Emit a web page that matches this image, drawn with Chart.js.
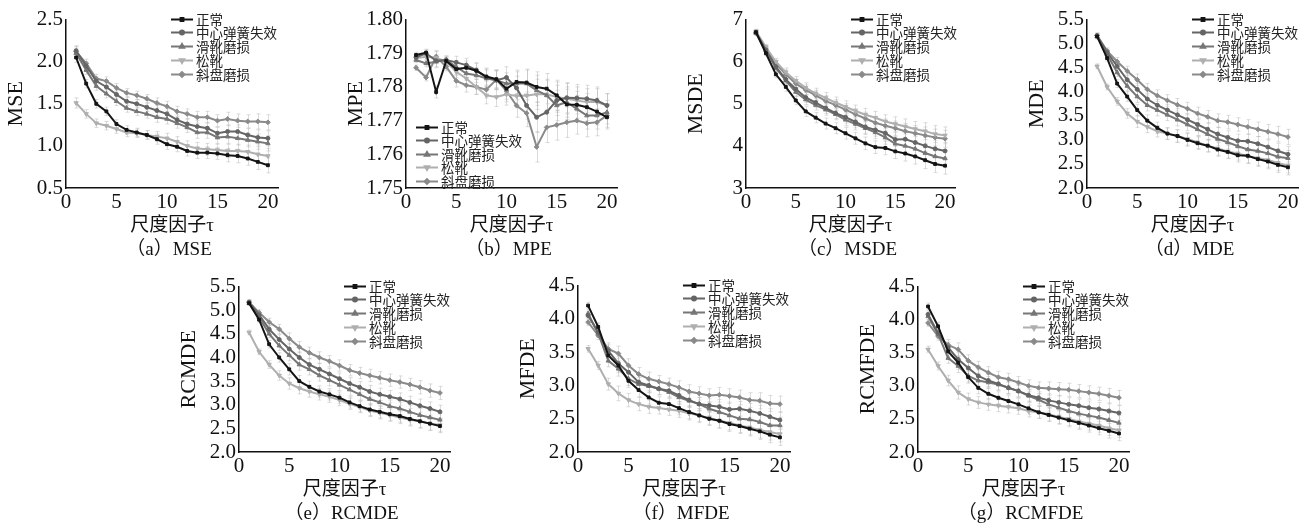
<!DOCTYPE html>
<html><head><meta charset="utf-8">
<script src="https://cdn.jsdelivr.net/npm/chart.js@4"></script>
<style>
body{margin:0;background:#fff;width:1312px;height:528px;position:relative;overflow:hidden}
.c{position:absolute}
.cap{position:absolute;font:19px 'Liberation Serif','Noto Sans CJK SC',serif;color:#111;white-space:nowrap;transform:translate(-50%,-50%)}
</style></head><body>
<script>
// ---------- data ----------
const tau = [1,2,3,4,5,6,7,8,9,10,11,12,13,14,15,16,17,18,19,20];
const seriesNames = ['正常','中心弹簧失效','滑靴磨损','松靴','斜盘磨损'];
const xTicks = [0,5,10,15,20];

// (a) MSE
const mseTicks = [0.5,1.0,1.5,2.0,2.5];
const mseNormal = [2.05,1.74,1.50,1.41,1.26,1.19,1.16,1.13,1.08,1.02,0.99,0.94,0.92,0.92,0.91,0.89,0.88,0.85,0.81,0.77];
const mseSpring = [2.13,1.95,1.77,1.70,1.61,1.53,1.50,1.46,1.42,1.38,1.31,1.26,1.23,1.21,1.15,1.17,1.17,1.13,1.10,1.09];
const mseSlipper = [2.10,1.90,1.71,1.62,1.53,1.45,1.41,1.38,1.34,1.32,1.27,1.22,1.16,1.16,1.10,1.11,1.09,1.07,1.05,1.03];
const mseLoose = [1.51,1.38,1.27,1.24,1.20,1.16,1.15,1.13,1.11,1.09,1.05,1.00,0.97,0.96,0.95,0.94,0.94,0.93,0.90,0.88];
const mseSwash = [2.12,1.98,1.80,1.77,1.69,1.63,1.60,1.56,1.51,1.47,1.41,1.38,1.34,1.34,1.30,1.32,1.30,1.29,1.29,1.28];
const mseErr = [0.06,0.05,0.05,0.05,0.05,0.05,0.05,0.05,0.06,0.06,0.06,0.06,0.07,0.07,0.07,0.08,0.08,0.08,0.09,0.09];

// (b) MPE
const mpeTicks = [1.75,1.76,1.77,1.78,1.79,1.80];
const mpeNormal = [1.7895,1.7902,1.7785,1.7877,1.7853,1.7857,1.7848,1.7831,1.7823,1.7795,1.7815,1.7813,1.7800,1.7795,1.7775,1.7748,1.7747,1.7740,1.7727,1.7710];
const mpeSpring = [1.7888,1.7900,1.7878,1.7880,1.7873,1.7865,1.7850,1.7828,1.7820,1.7828,1.7797,1.7745,1.7710,1.7725,1.7760,1.7768,1.7767,1.7765,1.7760,1.7745];
const mpeSlipper = [1.7880,1.7870,1.7875,1.7880,1.7860,1.7840,1.7835,1.7825,1.7820,1.7810,1.7810,1.7810,1.7790,1.7775,1.7745,1.7755,1.7735,1.7715,1.7715,1.7725];
const mpeLoose = [1.7885,1.7890,1.7887,1.7875,1.7845,1.7825,1.7800,1.7775,1.7770,1.7778,1.7773,1.7775,1.7778,1.7778,1.7770,1.7765,1.7760,1.7755,1.7755,1.7745];
const mpeSwash = [1.7857,1.7828,1.7890,1.7860,1.7818,1.7805,1.7800,1.7792,1.7822,1.7788,1.7745,1.7722,1.7622,1.7680,1.7687,1.7695,1.7700,1.7692,1.7695,1.7715];
const mpeErr = [0.0008,0.0010,0.0018,0.0012,0.0018,0.0020,0.0022,0.0025,0.0028,0.0032,0.0035,0.0040,0.0045,0.0045,0.0045,0.0045,0.0040,0.0040,0.0040,0.0035];

// (c) MSDE
const msdeTicks = [3,4,5,6,7];
const msdeNormal = [6.70,6.20,5.70,5.40,5.08,4.82,4.67,4.53,4.42,4.30,4.18,4.06,3.97,3.95,3.87,3.82,3.75,3.66,3.57,3.53];
const msdeSpring = [6.70,6.28,5.88,5.58,5.35,5.15,5.03,4.90,4.78,4.68,4.57,4.45,4.38,4.30,4.15,4.16,4.08,4.00,3.93,3.88];
const msdeSlipper = [6.68,6.27,5.85,5.55,5.28,5.10,4.97,4.86,4.75,4.62,4.52,4.42,4.32,4.20,4.05,4.00,3.93,3.83,3.75,3.70];
const msdeLoose = [6.72,6.35,6.00,5.75,5.55,5.38,5.25,5.14,5.03,4.93,4.83,4.74,4.67,4.58,4.52,4.46,4.40,4.35,4.28,4.25];
const msdeSwash = [6.68,6.30,5.95,5.70,5.48,5.33,5.20,5.07,4.97,4.86,4.75,4.65,4.55,4.48,4.42,4.35,4.30,4.25,4.20,4.17];
const msdeErr = [0.05,0.06,0.08,0.10,0.10,0.12,0.12,0.13,0.13,0.14,0.14,0.15,0.15,0.16,0.17,0.18,0.18,0.20,0.20,0.20];

// (d) MDE
const mdeTicks = [2.0,2.5,3.0,3.5,4.0,4.5,5.0,5.5];
const mdeNormal = [5.15,4.70,4.17,3.90,3.62,3.40,3.25,3.13,3.08,3.00,2.93,2.88,2.80,2.75,2.68,2.67,2.60,2.55,2.48,2.43];
const mdeSpring = [5.17,4.82,4.53,4.25,4.05,3.85,3.72,3.62,3.52,3.42,3.32,3.22,3.12,3.05,2.98,2.97,2.92,2.85,2.77,2.70];
const mdeSlipper = [5.15,4.78,4.40,4.12,3.90,3.72,3.62,3.52,3.42,3.32,3.22,3.12,3.02,2.95,2.87,2.80,2.77,2.72,2.65,2.62];
const mdeLoose = [4.53,4.10,3.80,3.55,3.38,3.27,3.18,3.13,3.08,3.02,2.95,2.88,2.82,2.76,2.72,2.66,2.62,2.58,2.52,2.47];
const mdeSwash = [5.17,4.85,4.63,4.43,4.25,4.05,3.92,3.82,3.73,3.65,3.55,3.48,3.40,3.37,3.32,3.27,3.22,3.17,3.12,3.06];
const mdeErr = [0.05,0.06,0.08,0.10,0.12,0.12,0.12,0.12,0.13,0.13,0.13,0.13,0.14,0.14,0.14,0.15,0.15,0.15,0.16,0.16];

// (e) RCMDE
const rcmdeTicks = [2.0,2.5,3.0,3.5,4.0,4.5,5.0,5.5];
const rcmdeNormal = [5.15,4.80,4.28,4.00,3.75,3.50,3.38,3.28,3.22,3.15,3.05,2.97,2.90,2.85,2.80,2.76,2.70,2.65,2.60,2.55];
const rcmdeSpring = [5.17,4.90,4.60,4.38,4.18,4.00,3.85,3.75,3.65,3.55,3.45,3.37,3.28,3.22,3.17,3.12,3.05,2.98,2.92,2.85];
const rcmdeSlipper = [5.15,4.85,4.50,4.25,4.05,3.85,3.75,3.62,3.52,3.42,3.32,3.22,3.12,3.05,2.97,2.92,2.85,2.78,2.73,2.68];
const rcmdeLoose = [4.53,4.12,3.85,3.62,3.45,3.35,3.28,3.22,3.17,3.10,3.02,2.95,2.88,2.83,2.78,2.73,2.68,2.65,2.60,2.57];
const rcmdeSwash = [5.17,4.95,4.75,4.60,4.40,4.22,4.10,4.00,3.92,3.83,3.73,3.67,3.62,3.57,3.52,3.48,3.43,3.37,3.30,3.25];
const rcmdeErr = [0.05,0.06,0.08,0.10,0.12,0.12,0.12,0.12,0.12,0.12,0.12,0.12,0.13,0.13,0.13,0.13,0.13,0.14,0.14,0.14];

// (f) MFDE
const mfdeTicks = [2.0,2.5,3.0,3.5,4.0,4.5];
const mfdeNormal = [4.20,3.88,3.45,3.30,3.07,2.93,2.82,2.74,2.72,2.66,2.60,2.55,2.50,2.47,2.42,2.39,2.35,2.31,2.26,2.22];
const mfdeSpring = [4.05,3.80,3.52,3.33,3.20,3.05,3.00,2.95,2.92,2.85,2.78,2.72,2.70,2.68,2.64,2.65,2.62,2.58,2.53,2.48];
const mfdeSlipper = [4.08,3.78,3.37,3.25,3.10,3.02,2.99,2.95,2.90,2.82,2.77,2.72,2.65,2.60,2.55,2.50,2.49,2.45,2.40,2.40];
const mfdeLoose = [3.55,3.30,3.02,2.88,2.78,2.72,2.68,2.66,2.64,2.62,2.58,2.55,2.51,2.47,2.44,2.40,2.37,2.33,2.30,2.27];
const mfdeSwash = [3.95,3.75,3.55,3.48,3.30,3.17,3.10,3.06,3.02,2.97,2.91,2.88,2.85,2.86,2.84,2.82,2.78,2.77,2.73,2.72];
const mfdeErr = [0.05,0.06,0.09,0.11,0.10,0.10,0.10,0.09,0.09,0.10,0.10,0.10,0.10,0.11,0.11,0.11,0.11,0.12,0.12,0.12];

// (g) RCMFDE
const rcmfdeTicks = [2.0,2.5,3.0,3.5,4.0,4.5];
const rcmfdeNormal = [4.20,3.90,3.52,3.35,3.13,2.97,2.88,2.82,2.77,2.72,2.66,2.60,2.56,2.52,2.48,2.44,2.40,2.36,2.32,2.28];
const rcmfdeSpring = [4.08,3.80,3.58,3.40,3.27,3.15,3.08,3.03,2.97,2.92,2.86,2.82,2.78,2.75,2.72,2.70,2.67,2.65,2.62,2.59];
const rcmfdeSlipper = [4.05,3.78,3.42,3.30,3.15,3.08,3.05,3.02,2.97,2.92,2.85,2.79,2.72,2.67,2.62,2.58,2.55,2.52,2.48,2.44];
const rcmfdeLoose = [3.55,3.30,3.08,2.90,2.80,2.75,2.72,2.70,2.68,2.66,2.62,2.60,2.57,2.53,2.50,2.46,2.43,2.40,2.36,2.33];
const rcmfdeSwash = [3.95,3.75,3.62,3.55,3.38,3.28,3.20,3.13,3.10,3.05,3.00,2.97,2.96,2.95,2.94,2.92,2.90,2.88,2.85,2.82];
const rcmfdeErr = [0.05,0.06,0.08,0.10,0.09,0.09,0.09,0.09,0.09,0.09,0.09,0.09,0.10,0.10,0.10,0.10,0.10,0.10,0.11,0.11];

// ---------- styles ----------
const seriesStyle = [
  {color:'#141414', style:'rect', rot:0, r:2.0},
  {color:'#656565', style:'circle', rot:0, r:2.0},
  {color:'#767676', style:'triangle', rot:0, r:2.5},
  {color:'#afafaf', style:'triangle', rot:180, r:2.5},
  {color:'#8a8a8a', style:'rectRot', rot:0, r:2.4}
];

const panels = [
  {ax:66,  top:16,  bot:188, end:278,  ticks:mseTicks,   dec:1, title:'MSE',    cap:'（a）MSE',    data:[mseNormal,mseSpring,mseSlipper,mseLoose,mseSwash], err:mseErr, leg:'tr'},
  {ax:406, top:16,  bot:188, end:617,  ticks:mpeTicks,   dec:2, title:'MPE',    cap:'（b）MPE',    data:[mpeNormal,mpeSpring,mpeSlipper,mpeLoose,mpeSwash], err:mpeErr, leg:'bl'},
  {ax:746, top:16,  bot:188, end:955,  ticks:msdeTicks,  dec:0, title:'MSDE',   cap:'（c）MSDE',   data:[msdeNormal,msdeSpring,msdeSlipper,msdeLoose,msdeSwash], err:msdeErr, leg:'tr'},
  {ax:1087,top:16,  bot:188, end:1298, ticks:mdeTicks,   dec:1, title:'MDE',    cap:'（d）MDE',    data:[mdeNormal,mdeSpring,mdeSlipper,mdeLoose,mdeSwash], err:mdeErr, leg:'tr'},
  {ax:239, top:283, bot:452, end:450,  ticks:rcmdeTicks, dec:1, title:'RCMDE',  cap:'（e）RCMDE',  data:[rcmdeNormal,rcmdeSpring,rcmdeSlipper,rcmdeLoose,rcmdeSwash], err:rcmdeErr, leg:'tr'},
  {ax:578, top:282, bot:452, end:790,  ticks:mfdeTicks,  dec:1, title:'MFDE',   cap:'（f）MFDE',   data:[mfdeNormal,mfdeSpring,mfdeSlipper,mfdeLoose,mfdeSwash], err:mfdeErr, leg:'tr'},
  {ax:918, top:283, bot:452, end:1129, ticks:rcmfdeTicks,dec:1, title:'RCMFDE', cap:'（g）RCMFDE', data:[rcmfdeNormal,rcmfdeSpring,rcmfdeSlipper,rcmfdeLoose,rcmfdeSwash], err:rcmfdeErr, leg:'tr'}
];

// ---------- plugins ----------
const errorBars = {
  id:'errorBars',
  beforeDatasetsDraw(chart, args, opts){
    if(!opts || !opts.err) return;
    const {ctx} = chart; const xs = chart.scales.x, ys = chart.scales.y;
    ctx.save();
    ctx.strokeStyle = 'rgba(185,185,185,0.5)'; ctx.lineWidth = 1;
    chart.data.datasets.forEach(ds=>{
      ds.data.forEach((pt,j)=>{
        const e = opts.err[j];
        const x = Math.round(xs.getPixelForValue(pt.x))+0.5;
        const y1 = ys.getPixelForValue(pt.y+e), y2 = ys.getPixelForValue(pt.y-e);
        ctx.beginPath();
        ctx.moveTo(x,y1); ctx.lineTo(x,y2);
        ctx.moveTo(x-2,y1); ctx.lineTo(x+2,y1);
        ctx.moveTo(x-2,y2); ctx.lineTo(x+2,y2);
        ctx.stroke();
      });
    });
    ctx.restore();
  }
};
const panelLegend = {
  id:'panelLegend',
  afterDatasetsDraw(chart, args, opts){
    if(!opts || opts.dx === undefined) return;
    const {ctx, chartArea} = chart;
    const x0 = chartArea.left + opts.dx, y0 = chartArea.top + opts.dy;
    ctx.save();
    chart.data.datasets.forEach((ds,i)=>{
      const y = Math.round(y0 + i*opts.gap) + 0.5;
      ctx.strokeStyle = ds.borderColor; ctx.fillStyle = ds.backgroundColor; ctx.lineWidth = ds.borderWidth;
      ctx.beginPath(); ctx.moveTo(x0,y); ctx.lineTo(x0+22,y); ctx.stroke();
      Chart.helpers.drawPoint(ctx, {pointStyle:ds.pointStyle, rotation:ds.pointRotation||0, radius:ds.pointRadius, borderWidth:1}, x0+11, y);
      ctx.fillStyle = '#222';
      ctx.font = "13.5px 'Noto Sans CJK SC'";
      ctx.textBaseline = 'middle'; ctx.textAlign = 'left';
      ctx.fillText(ds.label, x0+25, y);
    });
    ctx.restore();
  }
};
Chart.register(errorBars, panelLegend);

// ---------- build ----------
const PT = 12, PR = 14, XH = 52, YW = 66;
panels.forEach(p=>{
  const left = p.ax - YW, top = p.top - PT;
  const w = p.end + PR - left, h = p.bot + XH - top;
  const cv = document.createElement('canvas');
  cv.className = 'c'; cv.width = w; cv.height = h;
  cv.style.left = left+'px'; cv.style.top = top+'px'; cv.style.width = w+'px'; cv.style.height = h+'px';
  document.body.appendChild(cv);

  const cap = document.createElement('div');
  cap.className = 'cap'; cap.textContent = p.cap;
  cap.style.left = ((p.ax + p.end)/2 - 3) + 'px';
  cap.style.top = (p.bot + 58) + 'px';
  document.body.appendChild(cap);

  const datasets = p.data.map((arr,i)=>{
    const s = seriesStyle[i];
    return {
      label: seriesNames[i],
      data: arr.map((v,j)=>({x:tau[j], y:v})),
      borderColor: s.color, backgroundColor: s.color,
      borderWidth: 2, pointStyle: s.style, pointRotation: s.rot,
      pointRadius: s.r, pointBorderWidth: 1, tension: 0
    };
  });
  const leg = p.leg === 'tr' ? {dx:105, dy:-1, gap:13.8} : {dx:10, dy:107, gap:13.5};

  new Chart(cv, {
    type:'line',
    data:{datasets},
    options:{
      responsive:false, animation:false, devicePixelRatio:1,
      layout:{padding:{top:PT, right:PR, left:0, bottom:0}},
      plugins:{legend:{display:false}, tooltip:{enabled:false}, errorBars:{err:p.err}, panelLegend:leg},
      scales:{
        x:{type:'linear', min:0, max:21,
           afterFit:s=>{s.height = XH;},
           afterBuildTicks:s=>{s.ticks = xTicks.map(v=>({value:v}));},
           grid:{display:false, drawTicks:false},
           border:{display:true, color:'#111', width:1.5},
           ticks:{padding:2, autoSkip:false, color:'#111', font:{family:"'Liberation Serif'", size:21}, maxRotation:0, callback:v=>String(v)},
           title:{display:true, text:'尺度因子τ', color:'#111', padding:{top:0,bottom:3}, font:{family:"'Liberation Serif','Noto Sans CJK SC'", size:19}}
        },
        y:{type:'linear', min:p.ticks[0], max:p.ticks[p.ticks.length-1],
           afterFit:s=>{s.width = YW;},
           afterBuildTicks:s=>{s.ticks = p.ticks.map(v=>({value:v}));},
           grid:{display:false, drawTicks:false},
           border:{display:true, color:'#111', width:1.5},
           ticks:{padding:3, autoSkip:false, color:'#111', font:{family:"'Liberation Serif'", size:21}, callback:v=>Number(v).toFixed(p.dec)},
           title:{display:true, text:p.title, color:'#111', padding:{top:3,bottom:0}, font:{family:"'Liberation Serif'", size:22}}
        }
      }
    }
  });
});
</script>
</body></html>
